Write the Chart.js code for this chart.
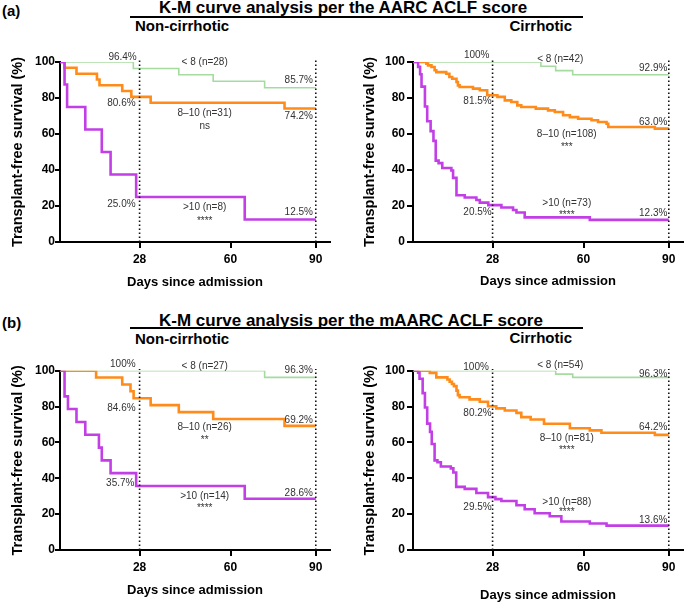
<!DOCTYPE html>
<html lang="en">
<head>
<meta charset="UTF-8">
<title>K-M curve analysis per the AARC / mAARC ACLF score</title>
<script src="https://cdn.jsdelivr.net/npm/chart.js"></script>
<style>
  body { margin: 0; background: #fff; }
  #page { position: relative; width: 685px; height: 604px; overflow: hidden;
          font-family: "Liberation Sans", Arial, sans-serif; }
  .txt { position: absolute; font-weight: bold; color: #000; white-space: nowrap; }
  .rule { position: absolute; background: #000; height: 2px; }
  canvas { position: absolute; }
</style>
</head>
<body>
<div id="page">
  <div class="txt" style="left:2px;top:2px;font-size:15px;line-height:18px">(a)</div>
  <div class="txt" style="left:159px;top:-2px;font-size:17px;line-height:20px">K-M curve analysis per the AARC ACLF score</div>
  <div class="rule" style="left:130px;top:16px;width:453px"></div>
  <div class="txt" style="left:135px;top:17px;font-size:15px;line-height:18px">Non-cirrhotic</div>
  <div class="txt" style="right:113px;top:17px;font-size:15px;line-height:18px">Cirrhotic</div>

  <div class="txt" style="left:2px;top:314px;font-size:15px;line-height:18px">(b)</div>
  <div class="txt" style="left:159px;top:311px;font-size:17px;line-height:20px">K-M curve analysis per the mAARC ACLF score</div>
  <div class="rule" style="left:130px;top:327px;width:453px"></div>
  <div class="txt" style="left:135px;top:330px;font-size:15px;line-height:18px">Non-cirrhotic</div>
  <div class="txt" style="right:113px;top:329px;font-size:15px;line-height:18px">Cirrhotic</div>

  <canvas id="aarcNon" width="340" height="260" style="left:0;top:40px"></canvas>
  <canvas id="aarcCir" width="345" height="260" style="left:340px;top:40px"></canvas>
  <canvas id="maarcNon" width="340" height="256" style="left:0;top:348px"></canvas>
  <canvas id="maarcCir" width="345" height="256" style="left:340px;top:348px"></canvas>
</div>

<script>
// score groups
const groupNames = ['< 8', '8–10', '>10'];
const xTicks = [28, 60, 90];
const refDays = [28, 90];

// [day, survival %] steps

// AARC, non-cirrhotic
const aarcNonLow = [[0,100],[25.8,96.4],[41.8,92.9],[53.9,89.3],[72,85.7],[90,85.7]];
const aarcNonMid = [[0,100],[1.6,96.8],[5.8,93.5],[13,90.3],[13.9,87.1],[21.9,83.9],[25.1,80.6],[31.9,77.4],[79,74.2],[90,74.2]];
const aarcNonHigh = [[0,100],[1.6,87.5],[2.5,75],[8.9,62.5],[14.7,50],[17.8,37.5],[26.8,25],[65,12.5],[90,12.5]];

// AARC, cirrhotic
const aarcCirLow = [[0,100],[45,97.6],[50.2,95.2],[56.2,92.9],[90,92.9]];
const aarcCirMid = [[0,100],[4.7,99.1],[5.3,98.1],[6.5,97.2],[7.6,95.4],[8.2,94.4],[11.7,93.5],[12.8,91.7],[13.8,90.7],
  [15.3,88.9],[15.8,87.0],[16.4,86.1],[21.1,85.2],[23.5,84.3],[26.1,81.5],[29.7,80.6],[32.3,78.7],[34.6,77.8],
  [36.7,75.9],[38.1,75.0],[43.2,74.1],[47.5,73.1],[49.9,72.2],[52.8,70.4],[55.2,69.4],[58.1,68.5],[62.8,67.6],
  [65.1,66.7],[68.1,65.7],[68.7,63.9],[85.1,63.0],[90,63.0]];
const aarcCirHigh = [[0,100],[1.8,97.3],[2.5,93.2],[3.0,86.3],[4.2,75.3],[5.0,67.1],[6.2,61.6],[7.2,56.2],[8.0,45.2],
  [9.0,43.8],[10.3,41.1],[13.5,39.7],[14.1,35.6],[15.3,26.0],[18.2,24.7],[22.3,23.3],[23.5,21.9],[26.5,20.5],
  [31.1,19.2],[35.2,17.8],[36.4,16.4],[39.3,13.7],[62.2,12.3],[90,12.3]];

// mAARC, non-cirrhotic
const maarcNonLow = [[0,100],[72,96.3],[90,96.3]];
const maarcNonMid = [[0,100],[12.7,96.2],[21.9,92.3],[24.8,88.5],[25.9,84.6],[31.9,80.8],[41.8,76.9],[53.9,73.1],[79,69.2],[90,69.2]];
const maarcNonHigh = [[0,100],[1.6,85.7],[2.8,78.6],[5.8,71.4],[8.9,64.3],[13.7,57.1],[14.7,50],[17.8,42.9],[26.8,35.7],[65,28.6],[90,28.6]];

// mAARC, cirrhotic
const maarcCirLow = [[0,100],[50.2,98.1],[56.2,96.3],[90,96.3]];
const maarcCirMid = [[0,100],[5.9,98.8],[8.2,96.3],[12.1,95.1],[12.9,93.8],[13.7,92.6],[14.4,91.4],[15.3,88.9],
  [15.8,86.4],[16.4,85.2],[19.9,84.0],[23.5,82.7],[26.4,80.2],[29.3,79.0],[32.3,77.8],[36.4,76.5],[38.1,74.1],
  [41.4,72.8],[46.1,70.4],[55.2,67.9],[62.2,66.7],[66.3,65.4],[85.1,64.2],[90,64.2]];
const maarcCirHigh = [[0,100],[1.8,98.9],[2.3,95.5],[3.4,87.5],[4.2,79.5],[5.0,70.5],[6.0,65.9],[6.6,59.1],[7.6,50.0],
  [8.6,48.9],[9.8,46.6],[13.3,45.5],[14.2,43.2],[15.2,35.2],[18.2,34.1],[22.3,31.8],[26.4,29.5],[29.0,28.4],
  [31.1,27.3],[36.4,25.0],[39.3,22.7],[42.8,20.5],[48.1,18.8],[52.2,15.9],[62.2,14.8],[68.1,13.6],[90,13.6]];

// annotations: [text, day, survival, align]
const aarcNonNotes = [
  ['96.4%', 27, 102.8, 'right'], ['< 8 (n=28)', 50.9, 99.6], ['85.7%', 89, 90, 'right'],
  ['80.6%', 26.6, 77.2, 'right'], ['8–10 (n=31)', 50.9, 71.7], ['ns', 50.9, 64.4], ['74.2%', 89, 70, 'right'],
  ['25.0%', 26.6, 21.1, 'right'], ['>10 (n=8)', 50.9, 19.4], ['****', 50.9, 11.8], ['12.5%', 89, 16.7, 'right']
];
const aarcCirNotes = [
  ['100%', 22.4, 103.5], ['< 8 (n=42)', 51.8, 101.5], ['92.9%', 89.5, 96.5, 'right'],
  ['81.5%', 27.7, 78, 'right'], ['63.0%', 89.5, 66.8, 'right'], ['8–10 (n=108)', 54.1, 60], ['***', 54.1, 52.9],
  ['>10 (n=73)', 54.1, 21.5], ['****', 54.1, 14.6], ['20.5%', 27.7, 16.5, 'right'], ['12.3%', 89.5, 15.9, 'right']
];
const maarcNonNotes = [
  ['100%', 22.1, 103.6], ['< 8 (n=27)', 50.9, 102.6], ['96.3%', 89, 100, 'right'],
  ['84.6%', 26.6, 79, 'right'], ['69.2%', 89, 72.5, 'right'], ['8–10 (n=26)', 50.9, 68.2], ['**', 50.9, 61.2],
  ['35.7%', 26.2, 37.2, 'right'], ['>10 (n=14)', 50.9, 29.7], ['****', 50.9, 23.2], ['28.6%', 89, 31.6, 'right']
];
const maarcCirNotes = [
  ['100%', 22.2, 102.2], ['< 8 (n=54)', 51.8, 102.8], ['96.3%', 89.5, 98.2, 'right'],
  ['80.2%', 27.7, 76.2, 'right'], ['64.2%', 89.5, 68.4, 'right'], ['8–10 (n=81)', 54.1, 62.3], ['****', 54.1, 55.5],
  ['>10 (n=88)', 54.1, 26.7], ['****', 54.1, 20.8], ['29.5%', 27.7, 23.8, 'right'], ['13.6%', 89.5, 16.7, 'right']
];

const FONT = '"Liberation Sans", Arial, sans-serif';
const colors = ['#a6dba0', '#ff8c1a', '#c23fe6'];
const widths = [1.6, 2.6, 2.6];

// draws the percentages / group labels at data positions
const noteLabels = {
  id: 'noteLabels',
  afterDatasetsDraw(chart, args, opts) {
    const { ctx, scales: { x, y } } = chart;
    ctx.save();
    ctx.font = '10px ' + FONT;
    ctx.fillStyle = '#333';
    ctx.textBaseline = 'middle';
    opts.items.forEach(n => {
      ctx.textAlign = n[3] || 'center';
      ctx.fillText(n[0], x.getPixelForValue(n[1]), y.getPixelForValue(n[2]));
    });
    ctx.restore();
  }
};

function makeChart(id, curves, notes, L) {
  const sets = curves.map((c, i) => ({
    label: groupNames[i],
    data: c.map(p => ({ x: p[0], y: p[1] })),
    stepped: true,
    borderColor: colors[i],
    borderWidth: widths[i],
    pointRadius: 0,
    fill: false,
    order: 3 - i
  }));
  refDays.forEach(d => sets.push({
    label: 'day ' + d,
    data: [{ x: d, y: 0 }, { x: d, y: 101 }],
    borderColor: '#111',
    borderWidth: 1.6,
    borderDash: [1.6, 2.4],
    pointRadius: 0,
    clip: false,
    order: 0
  }));

  return new Chart(document.getElementById(id), {
    type: 'line',
    data: { datasets: sets },
    options: {
      responsive: false,
      animation: false,
      layout: { padding: { top: L.padTop, right: L.padRight, left: 0, bottom: 0 } },
      plugins: {
        legend: { display: false },
        tooltip: { enabled: false },
        noteLabels: { items: notes }
      },
      scales: {
        x: {
          type: 'linear', min: 0, max: 95,
          afterBuildTicks: s => { s.ticks = xTicks.map(v => ({ value: v })); },
          afterFit: s => { s.height = L.xH; },
          grid: { drawOnChartArea: false, color: '#000', lineWidth: 2, tickLength: 6 },
          border: { color: '#000', width: 2 },
          ticks: { color: '#000', padding: 4, maxRotation: 0, autoSkip: false,
                   font: { family: FONT, size: 12, weight: 'bold' } },
          title: { display: true, text: 'Days since admission', color: '#000',
                   font: { family: FONT, size: 13, weight: 'bold' },
                   padding: { top: 0, bottom: L.xTitlePad } }
        },
        y: {
          min: 0, max: 100,
          afterFit: s => { s.width = L.yW; },
          grid: { drawOnChartArea: false, color: '#000', lineWidth: 2, tickLength: L.yTick },
          border: { color: '#000', width: 2 },
          ticks: { stepSize: 20, color: '#000', padding: L.yTickPad,
                   font: { family: FONT, size: 12, weight: 'bold' } },
          title: { display: true, text: 'Transplant-free survival (%)', color: '#000',
                   font: { family: FONT, size: 14.5, weight: 'bold' },
                   padding: { top: L.yTitlePad, bottom: 0 } }
        }
      }
    },
    plugins: [noteLabels]
  });
}

const leftTop = { padTop: 22, padRight: 10, xH: 58, yW: 60, yTick: 5, yTickPad: 0, xTitlePad: 10.2, yTitlePad: 9.3 };
const rightTop = { padTop: 22, padRight: 2, xH: 58, yW: 73, yTick: 6, yTickPad: 2, xTitlePad: 10.5, yTitlePad: 21.3 };
const leftBot = { padTop: 22.7, padRight: 10, xH: 54, yW: 60, yTick: 5, yTickPad: 0, xTitlePad: 6.2, yTitlePad: 9.3 };
const rightBot = { padTop: 22.7, padRight: 2, xH: 54, yW: 73, yTick: 6, yTickPad: 2, xTitlePad: 1.2, yTitlePad: 21.3 };

makeChart('aarcNon', [aarcNonLow, aarcNonMid, aarcNonHigh], aarcNonNotes, leftTop);
makeChart('aarcCir', [aarcCirLow, aarcCirMid, aarcCirHigh], aarcCirNotes, rightTop);
makeChart('maarcNon', [maarcNonLow, maarcNonMid, maarcNonHigh], maarcNonNotes, leftBot);
makeChart('maarcCir', [maarcCirLow, maarcCirMid, maarcCirHigh], maarcCirNotes, rightBot);
</script>
</body>
</html>
